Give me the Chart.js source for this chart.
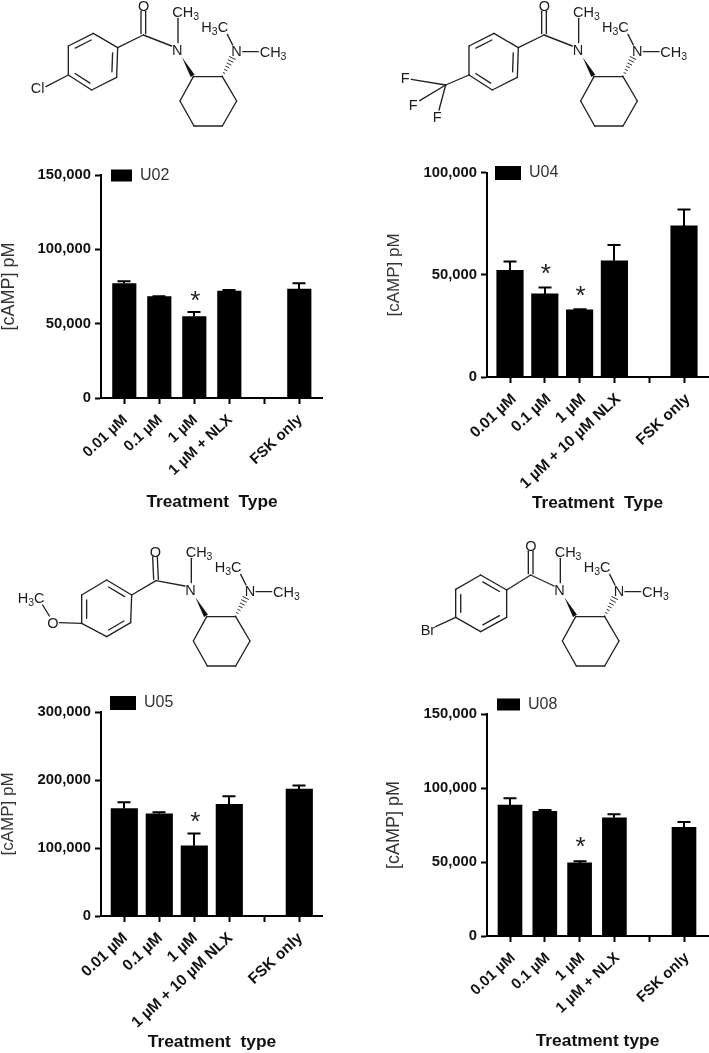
<!DOCTYPE html>
<html>
<head>
<meta charset="utf-8">
<script src="https://cdn.jsdelivr.net/npm/chart.js@4"></script>
<style>
html,body{margin:0;padding:0;background:#fff;width:709px;height:1053px;overflow:hidden}
canvas{position:absolute;display:block;filter:blur(.3px)}
svg{position:absolute;left:0;top:0;filter:blur(.35px)}
svg text{font-family:"Liberation Sans",Arial,sans-serif;font-size:14.5px;fill:#1c1c1c}
</style>
</head>
<body>
<svg id="mol" width="709" height="1053" xmlns="http://www.w3.org/2000/svg"></svg>
<canvas id="c1"></canvas><canvas id="c2"></canvas><canvas id="c3"></canvas><canvas id="c4"></canvas>
<script>
// ---- data ----
const categoriesA = ['0.01 µM','0.1 µM','1 µM','1 µM + NLX','','FSK only'];
const categoriesB = ['0.01 µM','0.1 µM','1 µM','1 µM + 10 µM NLX','','FSK only'];
const u02Values = [77000,68200,54800,71900,null,73200];
const u02Upper  = [78600,68500,57900,72700,null,77200];
const u02Stars  = [[2,67200]];
const u02Ticks  = [0,50000,100000,150000];
const u04Values = [52200,40700,32900,56900,null,74000];
const u04Upper  = [56600,43900,33200,64700,null,82000];
const u04Stars  = [[1,52000],[2,41100]];
const u04Ticks  = [0,50000,100000];
const u05Values = [158100,150200,103300,164400,null,186500];
const u05Upper  = [167400,152700,121400,176200,null,191800];
const u05Stars  = [[2,142000]];
const u05Ticks  = [0,100000,200000,300000];
const u08Values = [88500,84200,49400,79900,null,73400];
const u08Upper  = [93000,85100,50500,82200,null,77000];
const u08Stars  = [[2,62000]];
const u08Ticks  = [0,50000,100000,150000];

const errorAndStars = {
  id:'errorAndStars',
  afterLayout(chart,args,o){ chart.legend.top += o.legendDy; },
  afterDatasetsDraw(chart,args,o){
    const {ctx,scales:{x,y}} = chart;
    ctx.save();
    ctx.strokeStyle='#000'; ctx.lineWidth=2;
    o.upper.forEach((u,i)=>{
      if(u==null) return;
      const px=Math.round(x.getPixelForValue(i)), top=y.getPixelForValue(u), base=y.getPixelForValue(o.values[i]);
      ctx.beginPath();
      ctx.moveTo(px,base); ctx.lineTo(px,top);
      ctx.moveTo(px-6.5,top); ctx.lineTo(px+6.5,top);
      ctx.stroke();
    });
    ctx.fillStyle='#222';
    ctx.font='26px "Liberation Sans"';
    ctx.textAlign='center'; ctx.textBaseline='alphabetic';
    o.stars.forEach(([i,v])=>ctx.fillText('*',x.getPixelForValue(i)+1,y.getPixelForValue(v)+11));
    ctx.restore();
  }
};

function panel(id,name,cats,values,upper,stars,ticks,xTitle,g){
  const cv=document.getElementById(id);
  const W=g.canvasRight-g.canvasLeft, H=g.canvasBottom-g.canvasTop;
  cv.width=W; cv.height=H;
  cv.style.left=g.canvasLeft+'px'; cv.style.top=g.canvasTop+'px';
  cv.style.width=W+'px'; cv.style.height=H+'px';
  const itemH=Math.max(g.legendFont,g.boxH);
  const legendDy=g.boxTop-(g.top+g.boxLeftPad+(itemH-g.boxH)/2);
  new Chart(cv,{
    type:'bar',
    data:{datasets:[{label:name,
      data:values.map((v,i)=>({x:i,y:v})),
      backgroundColor:'#000',borderWidth:0,barThickness:g.barW}]},
    options:{
      responsive:false,animation:false,events:[],
      layout:{padding:{top:g.top-g.canvasTop,right:g.canvasRight-g.right,left:0,bottom:0}},
      plugins:{
        tooltip:{enabled:false},
        legend:{display:true,position:'chartArea',align:'start',
          labels:{boxWidth:g.boxW,boxHeight:g.boxH,padding:g.boxLeftPad,color:'#333',
            font:{family:'"Liberation Sans"',size:g.legendFont}}},
        errorAndStars:{values,upper,stars,legendDy}
      },
      scales:{
        x:{type:'linear',offset:false,
          min:-(g.tick0-g.left)/g.step,max:(g.right-g.tick0)/g.step,
          afterFit(s){s.height=g.canvasBottom-g.y0;},
          afterBuildTicks(s){s.ticks=cats.map((_,i)=>({value:i}));},
          border:{color:'#000',width:2},
          grid:{offset:false,drawOnChartArea:false,color:'#000',tickColor:'#000',tickWidth:2,tickLength:6},
          ticks:{autoSkip:false,minRotation:43,maxRotation:43,padding:g.xPad,labelOffset:g.labelShift,color:'#111',
            font:{family:'"Liberation Sans"',size:g.catFont,weight:'bold'},
            callback:v=>cats[v]},
          title:{display:true,text:xTitle,color:'#111',padding:0,
            font:{family:'"Liberation Sans"',size:g.xTitleFont,weight:'bold',lineHeight:1}}
        },
        y:{type:'linear',min:0,max:ticks[ticks.length-1],
          afterFit(s){s.width=g.left-g.canvasLeft;},
          afterBuildTicks(s){s.ticks=ticks.map(v=>({value:v}));},
          border:{color:'#000',width:2},
          grid:{drawOnChartArea:false,color:'#000',tickColor:'#000',tickWidth:2,tickLength:6},
          ticks:{padding:4,color:'#111',
            font:{family:'"Liberation Sans"',size:14.8,weight:'bold'},
            callback:v=>v.toLocaleString('en-US')},
          title:{display:true,text:'[cAMP] pM',color:'#333',padding:0,
            font:{family:'"Liberation Sans"',size:g.yTitleFont,lineHeight:1}}
        }
      }
    },
    plugins:[errorAndStars]
  });
}

panel('c1','U02',categoriesA,u02Values,u02Upper,u02Stars,u02Ticks,'Treatment  Type',
 {canvasLeft:0,canvasRight:323,canvasTop:160,canvasBottom:511,left:101,right:323,top:175,y0:398,tick0:124.3,step:35,barW:23.5,
  boxW:21,boxH:12,boxLeftPad:10,boxTop:184.5,legendFont:16,catFont:15,xTitleFont:17.3,yTitleFont:18,xPad:7,labelShift:1});
panel('c2','U04',categoriesB,u04Values,u04Upper,u04Stars,u04Ticks,'Treatment  Type',
 {canvasLeft:386,canvasRight:709,canvasTop:160,canvasBottom:512,left:487,right:708,top:172,y0:377,tick0:510,step:34.8,barW:26.5,
  boxW:26,boxH:14,boxLeftPad:8,boxTop:178,legendFont:16,catFont:15.5,xTitleFont:17.3,yTitleFont:17,xPad:7,labelShift:4});
panel('c3','U05',categoriesB,u05Values,u05Upper,u05Stars,u05Ticks,'Treatment  type',
 {canvasLeft:0,canvasRight:323,canvasTop:690,canvasBottom:1051,left:101,right:323,top:712,y0:916,tick0:124.3,step:35,barW:26.5,
  boxW:26,boxH:14,boxLeftPad:9,boxTop:718,legendFont:16,catFont:15.5,xTitleFont:17.4,yTitleFont:17,xPad:7,labelShift:1});
panel('c4','U08',categoriesA,u08Values,u08Upper,u08Stars,u08Ticks,'Treatment type',
 {canvasLeft:385,canvasRight:709,canvasTop:690,canvasBottom:1050,left:487,right:708,top:714,y0:936,tick0:510,step:34.8,barW:24,
  boxW:23,boxH:12,boxLeftPad:10,boxTop:722.5,legendFont:16,catFont:15,xTitleFont:17.4,yTitleFont:18,xPad:7,labelShift:3});

// ---- chemical structures (decoration above each chart), units are 1/3 px ----
const svg=document.getElementById('mol');
const NS='http://www.w3.org/2000/svg';
function line(x1,y1,x2,y2,w){const e=document.createElementNS(NS,'line');
  e.setAttribute('x1',x1/3);e.setAttribute('y1',y1/3);e.setAttribute('x2',x2/3);e.setAttribute('y2',y2/3);
  e.setAttribute('stroke','#222');e.setAttribute('stroke-width',w||1.35);e.setAttribute('stroke-linecap','round');svg.appendChild(e);}
function chem(x,y,parts){const e=document.createElementNS(NS,'text');
  e.setAttribute('x',x/3);e.setAttribute('y',y/3);
  let low=false;
  parts.forEach(p=>{const t=document.createElementNS(NS,'tspan');
    if(typeof p==='object'){t.setAttribute('dy','3');t.setAttribute('style','font-size:10.5px');t.textContent=p.subscript;low=true;}
    else{t.textContent=p;if(low){t.setAttribute('dy','-3');low=false;}}
    e.appendChild(t);
  });svg.appendChild(e);}
function poly(pts){const e=document.createElementNS(NS,'polygon');
  e.setAttribute('points',pts.map(p=>p.map(v=>v/3).join(',')).join(' '));e.setAttribute('fill','#111');svg.appendChild(e);}
const S3={subscript:'3'};

function molecule(ox,oy,ring,carbon,oxygen,extra,nShift){
  const [sx,sy]=nShift;
  for(let i=0;i<6;i++){const a=ring[i],b=ring[(i+1)%6];line(ox+a[0],oy+a[1],ox+b[0],oy+b[1]);}
  const c=[0,1].map(k=>ring.reduce((s,p)=>s+p[k],0)/6);
  ring.forEach((a,i)=>{ if(i%2===extra.dbl){const b=ring[(i+1)%6];
    const k=.8,t=.1;
    const ax=c[0]+(a[0]-c[0])*k,ay=c[1]+(a[1]-c[1])*k,bx=c[0]+(b[0]-c[0])*k,by=c[1]+(b[1]-c[1])*k;
    line(ox+ax+(bx-ax)*t,oy+ay+(by-ay)*t,ox+bx-(bx-ax)*t,oy+by-(by-ay)*t);}});
  line(ox+ring[1][0],oy+ring[1][1],ox+carbon[0],oy+carbon[1]);
  line(ox+carbon[0]-7,oy+carbon[1]-4,ox+oxygen[0]-7,oy+oxygen[1]+16);
  line(ox+carbon[0]+7,oy+carbon[1]-4,ox+oxygen[0]+7,oy+oxygen[1]+16);
  chem(ox+oxygen[0]-16,oy+oxygen[1]+16,['O']);
  line(ox+carbon[0],oy+carbon[1],ox+sx+515,oy+sy+138);
  chem(ox+sx+516,oy+sy+165,['N']);
  line(ox+sx+534,oy+sy+128,ox+sx+534,oy+sy+55);
  chem(ox+sx+517,oy+sy+52,['CH',S3]);
  const ch=[[580,230],[667,230],[710,303],[667,378],[582,378],[540,303]];
  ch.forEach((a,i)=>{const b=ch[(i+1)%6];line(ox+sx+a[0],oy+sy+a[1],ox+sx+b[0],oy+sy+b[1]);});
  poly([[ox+sx+546,oy+sy+172],[ox+sx+572,oy+sy+231],[ox+sx+584,oy+sy+224]]);
  for(let i=0;i<7;i++){const f=i/6,cx=667+f*30,cy=228-f*54,h=1+f*7.5;
    line(ox+sx+cx-h,oy+sy+cy-h*.5,ox+sx+cx+h,oy+sy+cy+h*.5,.95);}
  chem(ox+sx+694,oy+sy+168,['N']);
  line(ox+sx+698,oy+sy+135,ox+sx+682,oy+sy+103);
  chem(ox+sx+604,oy+sy+97,['H',S3,'C']);
  line(ox+sx+728,oy+sy+155,ox+sx+775,oy+sy+155);
  chem(ox+sx+779,oy+sy+170,['CH',S3]);
  extra.draw(ox,oy);
}

const ringFlat=[[280,100],[353,143],[350,232],[275,270],[205,225],[205,138]];
const ringUp=[[320,150],[395,195],[392,278],[320,320],[245,280],[245,195]];
const ringBr=[[380,135],[458,180],[458,262],[380,305],[305,262],[305,178]];

molecule(0,0,ringFlat,[430,105],[430,18],{dbl:1,draw(ox,oy){
  line(ox+205,oy+225,ox+138,oy+260);
  chem(ox+92,oy+280,['Cl']);
}},[0,0]);
molecule(1062,0,ringFlat.map(p=>[p[0]+140,p[1]]),[570,105],[570,18],{dbl:1,draw(ox,oy){
  line(ox+345,oy+225,ox+275,oy+255);
  line(ox+275,oy+255,ox+172,oy+238);
  line(ox+275,oy+255,ox+197,oy+302);
  line(ox+275,oy+255,ox+255,oy+330);
  chem(ox+140,oy+250,['F']);
  chem(ox+164,oy+330,['F']);
  chem(ox+236,oy+366,['F']);
}},[140,0]);
molecule(0,1590,ringUp,[468,152],[465,65],{dbl:0,draw(ox,oy){
  line(ox+245,oy+280,ox+178,oy+278);
  line(ox+148,oy+258,ox+128,oy+225);
  chem(ox+142,oy+293,['O']);
  chem(ox+53,oy+218,['H',S3,'C']);
}},[40,30]);
molecule(1062,1590,ringBr,[530,135],[530,48],{dbl:0,draw(ox,oy){
  line(ox+305,oy+262,ox+245,oy+290);
  chem(ox+200,oy+315,['Br']);
}},[85,30]);
</script>
</body>
</html>
